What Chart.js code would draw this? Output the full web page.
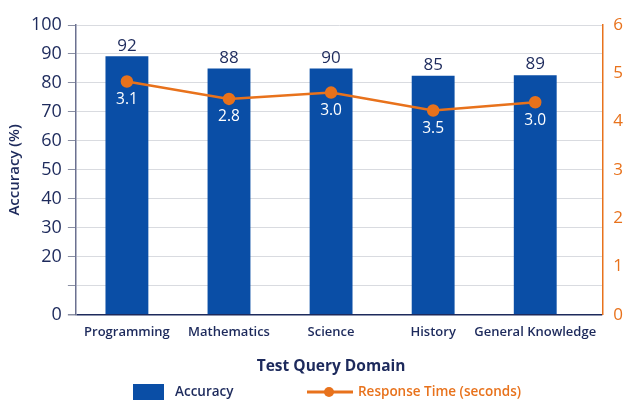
<!DOCTYPE html>
<html>
<head>
<meta charset="utf-8">
<script src="https://cdn.jsdelivr.net/npm/chart.js@4.4.1/dist/chart.umd.min.js"></script>
<style>
  html, body { margin: 0; padding: 0; background: #fff; }
  #wrap { width: 629px; height: 401px; }
</style>
</head>
<body>
<div id="wrap"><canvas id="chart" width="629" height="401"></canvas></div>
<script>
// ---- data ----
const domains = ["Programming", "Mathematics", "Science", "History", "General Knowledge"];
const accuracy = [89.2, 85, 85, 82.5, 82.7];          // bar heights as drawn
const accuracyLabels = ["92", "88", "90", "85", "89"]; // printed above bars
const responseTime = [4.83, 4.47, 4.6, 4.23, 4.4];    // line points as drawn
const responseLabels = ["3.1", "2.8", "3.0", "3.5", "3.0"];
const leftTicks = [0, 20, 30, 40, 50, 60, 70, 80, 90, 100];

const NAVY = "#1d2a5c";
const BLUE = "#0a4ea6";
const ORANGE = "#e8721c";
const FONT = "'Open Sans', sans-serif";

// the categories stop a little short of the right axis
const shiftCategories = {
  id: "shiftCategories",
  afterLayout(chart) {
    const x = chart.scales.x;
    x.right -= 16;
    x.width = x.right - x.left;
    x.configure();
  }
};

// value labels
const valueLabels = {
  id: "valueLabels",
  afterDatasetsDraw(chart) {
    const ctx = chart.ctx;
    ctx.save();
    ctx.textAlign = "center";
    chart.getDatasetMeta(1).data.forEach((el, i) => {
      ctx.fillStyle = NAVY;
      ctx.font = "17px " + FONT;
      ctx.textBaseline = "bottom";
      ctx.fillText(accuracyLabels[i], el.x, el.y - 2);
    });
    chart.getDatasetMeta(0).data.forEach((el, i) => {
      ctx.fillStyle = "#ffffff";
      ctx.font = "15.5px " + FONT;
      ctx.textBaseline = "middle";
      ctx.fillText(responseLabels[i], el.x, el.y + 18);
    });
    ctx.restore();
  }
};

// legend at the bottom
const bottomLegend = {
  id: "bottomLegend",
  afterDraw(chart) {
    const ctx = chart.ctx;
    const y = 392;
    ctx.save();
    ctx.fillStyle = BLUE;
    ctx.fillRect(133, y - 8, 31, 16);
    ctx.font = "600 13.5px " + FONT;
    ctx.textBaseline = "middle";
    ctx.textAlign = "left";
    ctx.fillStyle = NAVY;
    ctx.fillText("Accuracy", 175, y);
    ctx.strokeStyle = ORANGE;
    ctx.lineWidth = 3;
    ctx.beginPath(); ctx.moveTo(307, y); ctx.lineTo(353, y); ctx.stroke();
    ctx.fillStyle = ORANGE;
    ctx.beginPath(); ctx.arc(329, y, 5, 0, Math.PI * 2); ctx.fill();
    ctx.fillText("Response Time (seconds)", 358, y);
    ctx.restore();
  }
};

new Chart(document.getElementById("chart"), {
  data: {
    labels: domains,
    datasets: [
      {
        type: "line",
        label: "Response Time (seconds)",
        data: responseTime,
        yAxisID: "y1",
        borderColor: ORANGE,
        backgroundColor: ORANGE,
        borderWidth: 2.5,
        pointRadius: 5,
        pointBackgroundColor: ORANGE,
        tension: 0,
        order: 0
      },
      {
        type: "bar",
        label: "Accuracy",
        data: accuracy,
        yAxisID: "y",
        backgroundColor: BLUE,
        barPercentage: 0.42,
        categoryPercentage: 1,
        order: 1
      }
    ]
  },
  options: {
    responsive: false,
    animation: false,
    layout: { padding: { top: 25, right: 3, left: 5, bottom: 21 } },
    plugins: {
      tooltip: { enabled: false },
      legend: { display: false }
    },
    scales: {
      x: {
        grid: { display: false, drawTicks: false },
        border: { display: false },
        ticks: { color: NAVY, font: { size: 13, family: FONT, weight: "600" }, padding: 10, maxRotation: 0, autoSkip: false },
        title: { display: true, text: "Test Query Domain", color: NAVY, font: { size: 15.5, family: FONT, weight: "bold" }, padding: { top: 7, bottom: 4 } }
      },
      y: {
        position: "left",
        min: 0, max: 100,
        grid: {
          color: c => c.tick.value === 0 ? NAVY : "#d9dbe0",
          lineWidth: c => c.tick.value === 0 ? 1.5 : 1,
          tickLength: 8,
          tickColor: "#8a8fa3"
        },
        border: { color: "#6b7190", width: 1.5 },
        ticks: {
          stepSize: 10,
          color: NAVY,
          font: { size: 18, family: FONT },
          padding: 6,
          callback: v => leftTicks.includes(v) ? v : ""
        },
        title: { display: true, text: "Accuracy (%)", color: NAVY, font: { size: 15, family: FONT, weight: "600" }, padding: { top: 1, bottom: 1 } }
      },
      y1: {
        position: "right",
        min: 0, max: 6,
        grid: { display: false, drawOnChartArea: false, tickLength: 8, tickColor: ORANGE },
        border: { color: ORANGE, width: 1.5 },
        ticks: { stepSize: 1, color: ORANGE, font: { size: 17, family: FONT }, padding: 3 }
      }
    }
  },
  plugins: [shiftCategories, valueLabels, bottomLegend]
});
</script>
</body>
</html>
